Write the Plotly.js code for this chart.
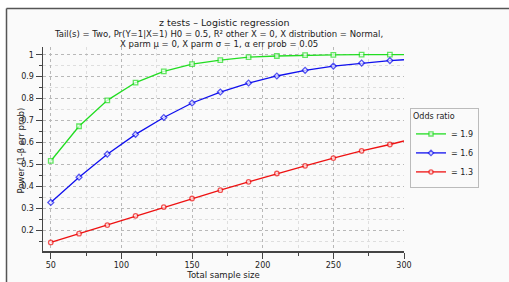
<!DOCTYPE html>
<html>
<head>
<meta charset="utf-8">
<script src="https://cdn.plot.ly/plotly-3.0.1.min.js"></script>
<style>html,body{margin:0;padding:0;background:#fff;}#chart{width:509px;height:282px;}</style>
</head>
<body>
<div id="chart"></div>
<script>
const sampleSize = [50, 70, 90, 110, 130, 150, 170, 190, 210, 230, 250, 270, 290, 300];
const power19 = [0.516, 0.674, 0.792, 0.873, 0.924, 0.957, 0.975, 0.989, 0.994, 0.998, 0.999, 1.0, 1.0, 1.0];
const power16 = [0.327, 0.442, 0.547, 0.637, 0.714, 0.780, 0.830, 0.871, 0.903, 0.929, 0.948, 0.962, 0.973, 0.977];
const power13 = [0.145, 0.185, 0.224, 0.266, 0.306, 0.345, 0.383, 0.421, 0.459, 0.494, 0.529, 0.562, 0.591, 0.607];
const seriesNames = ['= 1.9', '= 1.6', '= 1.3'];
const seriesColors = ['#22dd22', '#1010ee', '#ee1111'];
const seriesSymbols = ['square', 'diamond', 'circle'];
const allPower = [power19, power16, power13];

const W = 509, H = 282;
const L = 43, R = 105, T = 47, B = 31;
const pw = W - L - R, ph = H - T - B;
const px = x => (x - L) / pw;
const py = y => (H - B - y) / ph;

const markerSizes = sampleSize.map((s, i) => i === sampleSize.length - 1 ? 0 : 4.5);

const traces = allPower.map((vals, k) => ({
  x: sampleSize, y: vals, type: 'scatter', mode: 'lines+markers',
  name: seriesNames[k],
  line: {color: seriesColors[k], width: 1.3},
  marker: {symbol: seriesSymbols[k], size: markerSizes, color: '#ffffff', line: {color: seriesColors[k], width: 1.3}},
  cliponaxis: false
}));

const font = {family: 'DejaVu Sans, Verdana, sans-serif', color: '#222'};

const layout = {
  width: W, height: H,
  margin: {l: L, r: R, t: T, b: B, pad: 0},
  paper_bgcolor: '#ffffff',
  plot_bgcolor: '#efefef',
  font: Object.assign({size: 8}, font),
  showlegend: true,
  legend: {
    x: px(410), y: py(108), xanchor: 'left', yanchor: 'top',
    bgcolor: '#fafafa', bordercolor: '#bbbbbb', borderwidth: 1,
    font: Object.assign({size: 8}, font),
    title: {text: 'Odds ratio', font: Object.assign({size: 8}, font)},
    itemwidth: 30, tracegroupgap: 4
  },
  xaxis: {
    range: [44.5, 300], tickvals: [50, 100, 150, 200, 250, 300],
    ticks: 'outside', ticklen: 6, tickcolor: '#444', tickwidth: 1,
    showline: true, linecolor: '#444', linewidth: 1.5, mirror: false,
    showgrid: true, gridcolor: '#b8b8b8', griddash: 'dot', gridwidth: 1,
    zeroline: false,
    minor: {tickvals: [75, 125, 175, 225, 275], ticks: 'outside', ticklen: 3, tickcolor: '#444', showgrid: true, gridcolor: '#dedede', gridwidth: 1},
    tickfont: Object.assign({size: 8}, font),
    title: {text: 'Total sample size', font: Object.assign({size: 8.5}, font), standoff: 2}
  },
  yaxis: {
    range: [0.106, 1.035], tickvals: [0.2, 0.3, 0.4, 0.5, 0.6, 0.7, 0.8, 0.9, 1],
    ticktext: ['0.2', '0.3', '0.4', '0.5', '0.6', '0.7', '0.8', '0.9', '1'],
    ticks: 'outside', ticklen: 6, tickcolor: '#444', tickwidth: 1,
    showline: true, linecolor: '#444', linewidth: 1.5,
    showgrid: true, gridcolor: '#b8b8b8', griddash: 'dot', gridwidth: 1,
    zeroline: false,
    minor: {tickvals: [0.15, 0.25, 0.35, 0.45, 0.55, 0.65, 0.75, 0.85, 0.95], ticks: 'outside', ticklen: 3, tickcolor: '#444', showgrid: true, gridcolor: '#dedede', gridwidth: 1},
    tickfont: Object.assign({size: 8}, font)
  },
  shapes: [
    {type: 'rect', xref: 'paper', yref: 'paper', x0: px(6.5), x1: px(509), y0: py(8.5), y1: py(283), fillcolor: '#fafafa', line: {width: 0}, layer: 'below'},
    {type: 'line', xref: 'paper', yref: 'paper', x0: px(6.5), x1: px(509), y0: py(8.5), y1: py(8.5), line: {color: '#555', width: 1.5}},
    {type: 'line', xref: 'paper', yref: 'paper', x0: px(6.5), x1: px(6.5), y0: py(8.5), y1: py(283), line: {color: '#555', width: 1.5}}
  ],
  annotations: [
    {text: 'z tests – Logistic regression', xref: 'paper', yref: 'paper', x: px(224), y: py(23), xanchor: 'center', yanchor: 'middle', showarrow: false, font: Object.assign({size: 9.5}, font)},
    {text: 'Tail(s) = Two, Pr(Y=1|X=1) H0 = 0.5, R² other X = 0, X distribution = Normal,', xref: 'paper', yref: 'paper', x: px(218), y: py(34), xanchor: 'center', yanchor: 'middle', showarrow: false, font: Object.assign({size: 8.5}, font)},
    {text: 'X parm μ = 0, X parm σ = 1, α err prob = 0.05', xref: 'paper', yref: 'paper', x: px(219), y: py(43.5), xanchor: 'center', yanchor: 'middle', showarrow: false, font: Object.assign({size: 8.5}, font)},
    {text: 'Power (1-β err prob)', xref: 'paper', yref: 'paper', x: px(20.5), y: py(151), xanchor: 'center', yanchor: 'middle', textangle: -90, showarrow: false, font: Object.assign({size: 8.5}, font)}
  ]
};

Plotly.newPlot('chart', traces, layout, {displayModeBar: false, staticPlot: true});
</script>
</body>
</html>
